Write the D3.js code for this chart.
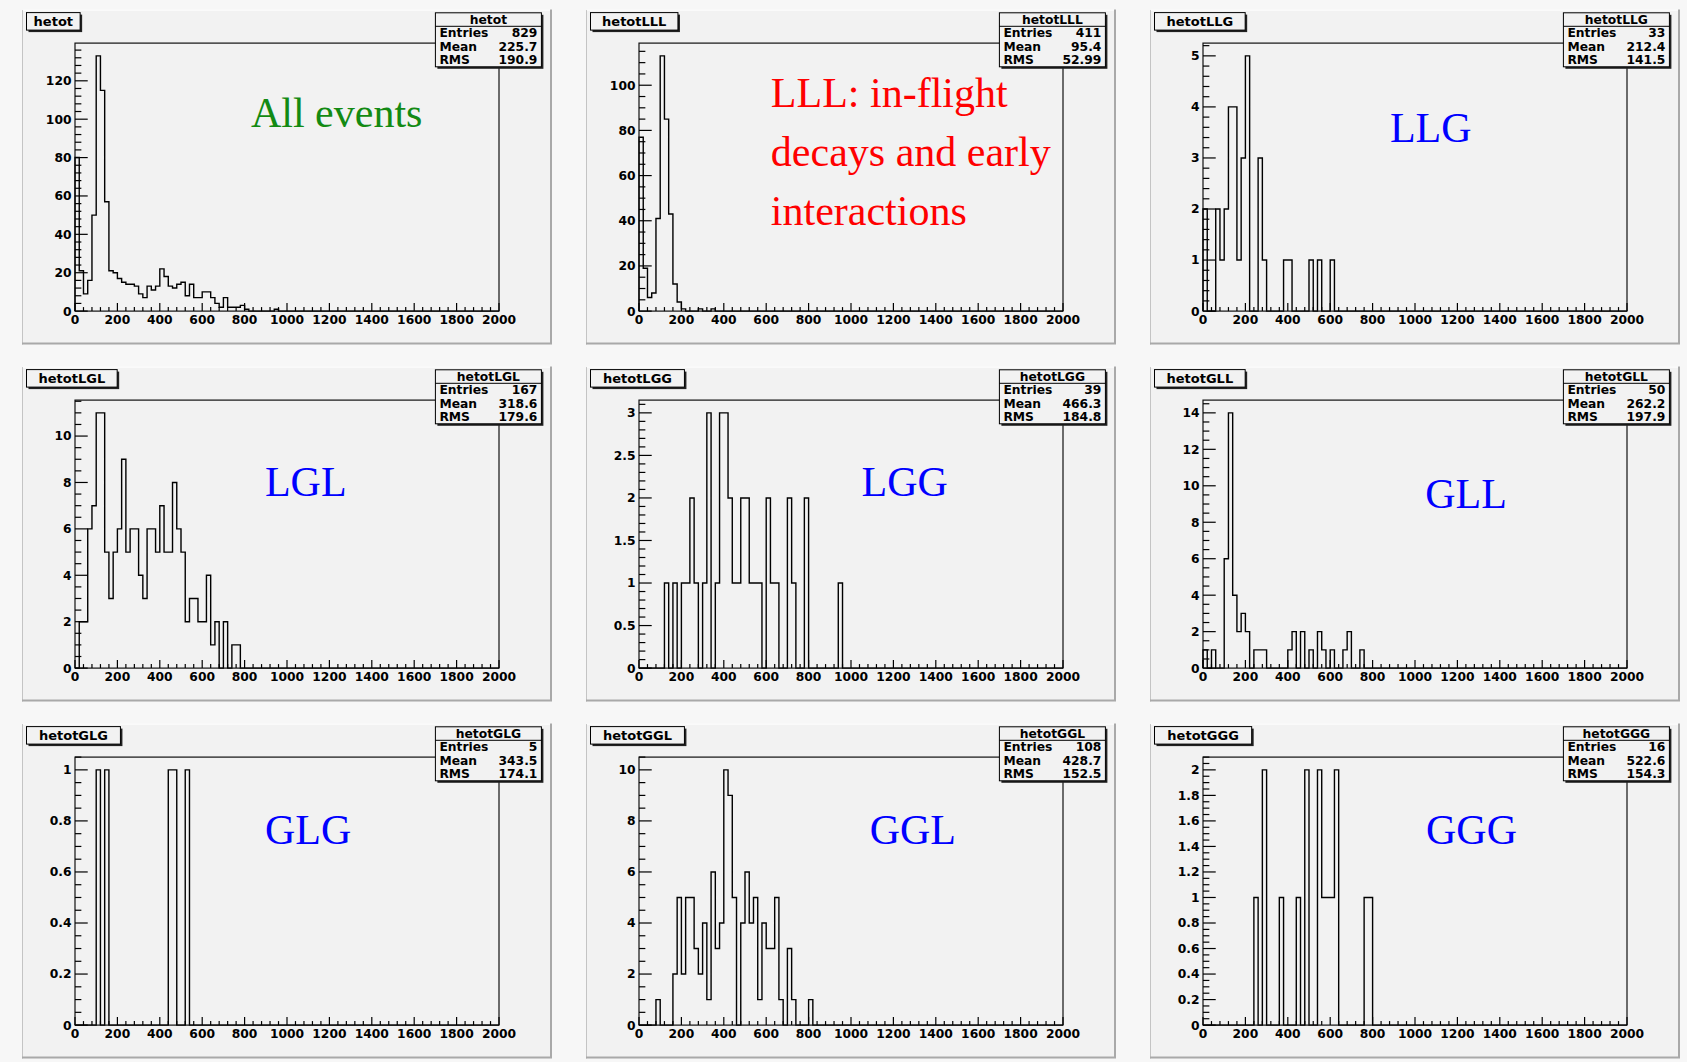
<!DOCTYPE html>
<html>
<head>
<meta charset="utf-8">
<script src="https://cdn.jsdelivr.net/npm/d3@7"></script>
<style>
  body { margin: 0; background: #f7f7f7; }
  svg { display: block; }
</style>
</head>
<body>
<div id="chart"></div>
<script>
// bin contents, 20 wide bins from 0 (trailing zero bins up to 2000 left out)
const hetot    = [80,21,9,16,50,133,115,57,21,20,17,15,14,14,13,9,7,13,11,13,22,18,13,12,14,15,8,14,7,7,10,10,7,4,2,7,2,2,2,3,1,0,0,0,0,0,0,1];
const hetotLLL = [77,19,6,8,41,113,85,43,12,4,1,0,0,0,1,0,0,1];
const hetotLLG = [2,0,0,2,1,2,4,4,1,3,5,0,0,3,1,0,0,0,0,1,1,0,0,0,0,1,0,1,0,0,1];
const hetotLGL = [0,2,2,6,7,11,11,5,3,5,6,9,5,6,6,4,3,6,6,5,7,5,5,8,6,5,2,3,3,2,2,4,1,2,0,2,0,1,1];
const hetotLGG = [0,0,0,0,0,0,1,0,1,0,1,1,2,1,0,1,3,0,1,3,3,2,1,1,2,2,1,1,1,0,2,1,1,0,0,2,1,0,0,2,0,0,0,0,0,0,0,1];
const hetotGLL = [1,0,1,0,0,6,14,4,2,3,2,0,1,1,1,0,0,0,0,0,1,2,0,2,0,1,0,2,1,0,1,0,0,1,2,0,0,1];
const hetotGLG = [0,0,0,0,0,1,0,1,0,0,0,0,0,0,0,0,0,0,0,0,0,0,1,1,0,0,1];
const hetotGGL = [0,0,0,0,1,0,0,0,2,5,2,5,5,3,2,4,1,6,3,4,10,9,5,0,4,6,4,5,1,4,3,3,5,1,0,3,1,0,0,0,1];
const hetotGGG = [0,0,0,0,0,0,0,0,0,0,0,0,1,0,2,0,0,0,1,0,0,0,1,0,2,0,0,2,1,1,1,2,0,0,0,0,0,0,1,1];

const histNames = ['hetot', 'hetotLLL', 'hetotLLG', 'hetotLGL', 'hetotLGG', 'hetotGLL', 'hetotGLG', 'hetotGGL', 'hetotGGG'];
const histData = [hetot, hetotLLL, hetotLLG, hetotLGL, hetotLGG, hetotGLL, hetotGLG, hetotGGL, hetotGGG];
const entries = ['829', '411', '33', '167', '39', '50', '5', '108', '16'];
const means = ['225.7', '95.4', '212.4', '318.6', '466.3', '262.2', '343.5', '428.7', '522.6'];
const rmsValues = ['190.9', '52.99', '141.5', '179.6', '184.8', '197.9', '174.1', '152.5', '154.3'];

const notes = [['All events'], ['LLL: in-flight', 'decays and early', 'interactions'], ['LLG'], ['LGL'], ['LGG'], ['GLL'], ['GLG'], ['GGL'], ['GGG']];
const noteColors = ['#138a13', '#ff0000', '#0000ff', '#0000ff', '#0000ff', '#0000ff', '#0000ff', '#0000ff', '#0000ff'];

const xTickLabels = ['0', '200', '400', '600', '800', '1000', '1200', '1400', '1600', '1800', '2000'];
const yMajorStep = [20, 20, 1, 2, 0.5, 2, 0.2, 2, 0.2];
const yMinorDiv = [5, 4, 5, 4, 5, 4, 4, 4, 4];

const binWidth = 20;
const xMax = 2000;

// layout
const width = 1687;
const height = 1062;
const padW = 530;
const padH = 335;
const padX = [22, 586, 1150];
const padY = [9.6, 366.6, 723.6];
// where the big label sits, as fractions of the frame (x, baseline of first line), and line step
const notePos = [[0.415, 0.313], [0.311, 0.24], [0.441, 0.369], [0.448, 0.358], [0.525, 0.358], [0.524, 0.402], [0.448, 0.324], [0.544, 0.324], [0.526, 0.324]];
const noteLineStep = 0.2195;

const boldFont = '"DejaVu Sans", Verdana, sans-serif';
const serifFont = '"Liberation Serif", "Times New Roman", serif';

const svg = d3.select('#chart')
    .append('svg')
    .attr('width', width)
    .attr('height', height)
    .attr('viewBox', `0,0,${width},${height}`);

svg.append('rect').attr('width', width).attr('height', height).attr('fill', '#f7f7f7');

function fmt(v) {
    return String(Math.round(v * 1e6) / 1e6);
}

function textWidth(txt, size) {
    const t = svg.append('text').attr('font-family', boldFont).attr('font-weight', 'bold')
        .attr('font-size', size).text(txt);
    const w = t.node().getComputedTextLength();
    t.remove();
    return w;
}

function drawPad(i) {
    const col = i % 3, row = Math.floor(i / 3);
    const g = svg.append('g').attr('transform', `translate(${padX[col]},${padY[row]})`);

    // pad background + bevel
    g.append('rect').attr('width', padW).attr('height', padH).attr('fill', '#f2f2f2');
    g.append('path').attr('d', `M0.5,${padH}V0.5H${padW}`).attr('fill', 'none')
        .attr('stroke', '#ffffff').attr('stroke-width', 1);
    g.append('path').attr('d', `M0.5,${padH}V0.5`).attr('fill', 'none')
        .attr('stroke', '#c4c4c4').attr('stroke-width', 1);
    g.append('path').attr('d', `M0,${padH - 1}H${padW - 1}V0`).attr('fill', 'none')
        .attr('stroke', '#a9a9a9').attr('stroke-width', 2);

    const fx0 = padW * 0.1, fx1 = padW * 0.9, fy0 = padH * 0.1, fy1 = padH * 0.9;
    const counts = histData[i];
    const yMax = d3.max(counts) * 1.05;

    const x = d3.scaleLinear().domain([0, xMax]).range([fx0, fx1]);
    const y = d3.scaleLinear().domain([0, yMax]).range([fy1, fy0]);

    // histogram outline
    const pts = [[0, 0]];
    counts.forEach((c, k) => pts.push([k * binWidth, c]));
    pts.push([counts.length * binWidth, 0]);
    pts.push([xMax, 0]);
    const line = d3.line().curve(d3.curveStepAfter).x(d => x(d[0])).y(d => y(d[1]));
    g.append('path').attr('d', line(pts)).attr('fill', 'none')
        .attr('stroke', '#000').attr('stroke-width', 1.4);

    // frame
    g.append('rect').attr('x', fx0).attr('y', fy0).attr('width', fx1 - fx0).attr('height', fy1 - fy0)
        .attr('fill', 'none').attr('stroke', '#111').attr('stroke-width', 1.2);

    // x ticks
    const xt = d3.range(0, xMax + 1, 40);
    const xTickLen = 0.03 * (fy1 - fy0);
    g.selectAll(null).data(xt).join('line')
        .attr('x1', d => x(d)).attr('x2', d => x(d))
        .attr('y1', fy1).attr('y2', d => fy1 - (d % 200 === 0 ? xTickLen : xTickLen / 2))
        .attr('stroke', '#000').attr('stroke-width', 1.2);
    g.selectAll(null).data(xTickLabels).join('text')
        .attr('x', d => x(+d)).attr('y', fy1 + 12.5)
        .attr('text-anchor', 'middle')
        .attr('font-family', boldFont).attr('font-weight', 'bold').attr('font-size', 12.3)
        .attr('fill', '#000')
        .text(d => d);

    // y ticks
    const minor = yMajorStep[i] / yMinorDiv[i];
    const nMinor = Math.floor(yMax / minor + 1e-9);
    const yt = d3.range(0, nMinor + 1).map(k => ({ v: k * minor, major: k % yMinorDiv[i] === 0 }));
    const yTickLen = 0.03 * (fx1 - fx0);
    g.selectAll(null).data(yt).join('line')
        .attr('x1', fx0).attr('x2', d => fx0 + (d.major ? yTickLen : yTickLen / 2))
        .attr('y1', d => y(d.v)).attr('y2', d => y(d.v))
        .attr('stroke', '#000').attr('stroke-width', 1.2);
    g.selectAll(null).data(yt.filter(d => d.major)).join('text')
        .attr('x', fx0 - 3.5).attr('y', d => y(d.v))
        .attr('dy', '0.36em')
        .attr('text-anchor', 'end')
        .attr('font-family', boldFont).attr('font-weight', 'bold').attr('font-size', 12.3)
        .attr('fill', '#000')
        .text(d => fmt(d.v));

    // big coloured label
    const np = notePos[i];
    g.selectAll(null).data(notes[i]).join('text')
        .attr('x', fx0 + np[0] * (fx1 - fx0))
        .attr('y', (d, k) => fy0 + (np[1] + k * noteLineStep) * (fy1 - fy0))
        .attr('font-family', serifFont).attr('font-size', 42)
        .attr('fill', noteColors[i])
        .text(d => d);

    // title box
    const tw = textWidth(histNames[i], 13);
    const bw = tw * 1.36, bx = 4.5, by = 3, bh = 17.5;
    g.append('rect').attr('x', bx + 2).attr('y', by + 2).attr('width', bw).attr('height', bh).attr('fill', '#222');
    g.append('rect').attr('x', bx).attr('y', by).attr('width', bw).attr('height', bh)
        .attr('fill', '#f2f2f2').attr('stroke', '#000').attr('stroke-width', 1);
    g.append('text').attr('x', bx + bw / 2).attr('y', by + bh / 2).attr('dy', '0.36em')
        .attr('text-anchor', 'middle')
        .attr('font-family', boldFont).attr('font-weight', 'bold').attr('font-size', 13)
        .text(histNames[i]);

    // stats box
    const sx = padW * 0.78, sw = padW * 0.2, sy = 3.2, sh = 54;
    const rh = sh / 4;
    g.append('rect').attr('x', sx + 2).attr('y', sy + 2).attr('width', sw).attr('height', sh).attr('fill', '#222');
    g.append('rect').attr('x', sx).attr('y', sy).attr('width', sw).attr('height', sh)
        .attr('fill', '#f2f2f2').attr('stroke', '#000').attr('stroke-width', 1);
    g.append('line').attr('x1', sx).attr('x2', sx + sw).attr('y1', sy + rh).attr('y2', sy + rh)
        .attr('stroke', '#000').attr('stroke-width', 1);
    const st = g.append('g').attr('font-family', boldFont).attr('font-weight', 'bold')
        .attr('font-size', 12.3).attr('fill', '#000');
    st.append('text').attr('x', sx + sw / 2).attr('y', sy + rh / 2).attr('dy', '0.36em')
        .attr('text-anchor', 'middle').text(histNames[i]);
    const rows = [['Entries', entries[i]], ['Mean', means[i]], ['RMS', rmsValues[i]]];
    rows.forEach((r, k) => {
        const cy = sy + rh * (k + 1.5);
        st.append('text').attr('x', sx + 4).attr('y', cy).attr('dy', '0.36em').text(r[0]);
        st.append('text').attr('x', sx + sw - 4).attr('y', cy).attr('dy', '0.36em')
            .attr('text-anchor', 'end').text(r[1]);
    });
}

histData.forEach((d, i) => drawPad(i));
</script>
</body>
</html>
